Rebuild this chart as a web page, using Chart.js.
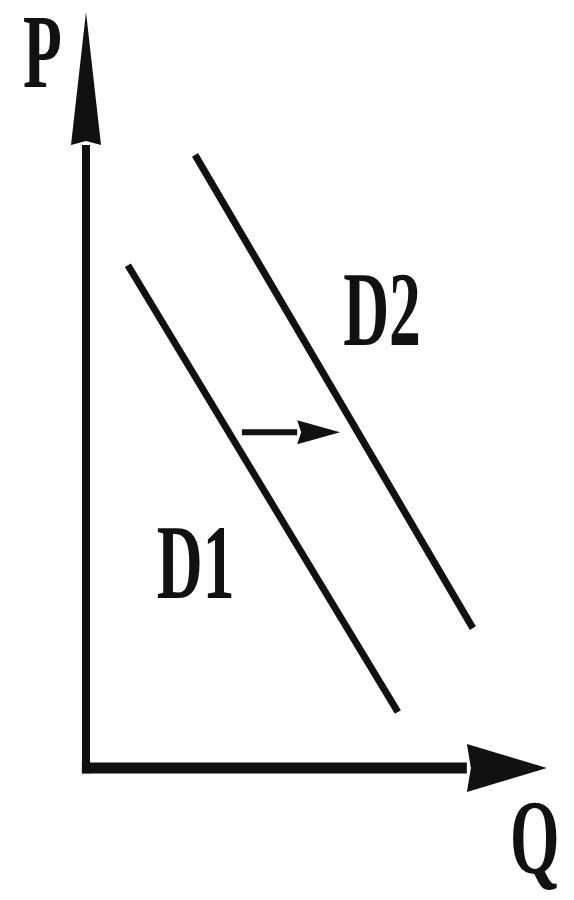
<!DOCTYPE html>
<html>
<head>
<meta charset="utf-8">
<script src="https://cdn.jsdelivr.net/npm/chart.js@4/dist/chart.umd.min.js"></script>
<style>
  html, body { margin: 0; padding: 0; background: #fff; }
  #wrap { width: 574px; height: 900px; position: relative; }
</style>
</head>
<body>
<div id="wrap"><canvas id="myChart"></canvas></div>
<script>
// Demand curves (Q, P in arbitrary units)
const d1Q = [0.91, 6.78];
const d1P = [6.65, 0.74];
const d2Q = [2.37, 8.41];
const d2P = [8.11, 1.85];

// Shift arrow from D1 to D2 (shaft, head added by plugin)
const shiftQ = [3.39, 4.59];
const shiftP = [4.44, 4.44];

// Axes (shaft ends, heads added by plugin)
const pAxisQ = [0, 0];
const pAxisP = [-0.07, 8.24];
const qAxisQ = [-0.09, 8.28];
const qAxisP = [0, 0];

// Text labels, anchored at left baseline
const labelText = ['P', 'Q', 'D1', 'D2'];
const labelQ = [-1.37, 9.22, 1.54, 5.59];
const labelP = [9.01, -1.39, 2.25, 5.60];

const ink = '#111';
const toPts = (xs, ys) => xs.map((x, i) => ({ x: x, y: ys[i] }));

function lineSet(xs, ys, width, head) {
    return {
        data: toPts(xs, ys),
        showLine: true,
        clip: false,
        borderColor: ink,
        borderWidth: width,
        pointRadius: 0,
        borderCapStyle: 'butt',
        head: head
    };
}

// draws arrow heads past the last point, and the text labels
const diagramPlugin = {
    id: 'diagram',
    afterDatasetsDraw(chart) {
        const c = chart.ctx;
        const xs = chart.scales.x, ys = chart.scales.y;
        c.save();
        c.fillStyle = ink;
        chart.data.datasets.forEach(ds => {
            if (!ds.head) return;
            const n = ds.data.length;
            const a = ds.data[n - 2], b = ds.data[n - 1];
            const ax = xs.getPixelForValue(a.x), ay = ys.getPixelForValue(a.y);
            const bx = xs.getPixelForValue(b.x), by = ys.getPixelForValue(b.y);
            const len = Math.hypot(bx - ax, by - ay);
            const ux = (bx - ax) / len, uy = (by - ay) / len;
            const tx = bx + ux * ds.head.length, ty = by + uy * ds.head.length;
            const hw = ds.head.half;
            c.beginPath();
            c.moveTo(tx, ty);
            c.lineTo(bx - uy * hw, by + ux * hw);
            c.lineTo(bx + ux * 4, by + uy * 4);
            c.lineTo(bx + uy * hw, by - ux * hw);
            c.closePath();
            c.fill();
        });
        c.font = 'bold 106px "Liberation Serif", "DejaVu Serif", serif';
        c.textBaseline = 'alphabetic';
        c.textAlign = 'left';
        labelText.forEach((t, i) => {
            c.save();
            c.translate(xs.getPixelForValue(labelQ[i]), ys.getPixelForValue(labelP[i]));
            c.scale(0.6, 1);
            c.fillText(t, 0, 0);
            c.restore();
        });
        c.restore();
    }
};

const ctx = document.getElementById('myChart').getContext('2d');
new Chart(ctx, {
    type: 'scatter',
    data: {
        datasets: [
            lineSet(pAxisQ, pAxisP, 8, { length: 133, half: 15 }),
            lineSet(qAxisQ, qAxisP, 11, { length: 80, half: 24 }),
            lineSet(d1Q, d1P, 7, null),
            lineSet(d2Q, d2P, 7, null),
            lineSet(shiftQ, shiftP, 6, { length: 43, half: 12 })
        ]
    },
    options: {
        responsive: true,
        maintainAspectRatio: false,
        animation: false,
        layout: { padding: { left: 86, right: 28, top: 12, bottom: 132 } },
        plugins: { legend: { display: false }, tooltip: { enabled: false } },
        scales: {
            x: { type: 'linear', min: 0, max: 10, display: false },
            y: { type: 'linear', min: 0, max: 10, display: false }
        }
    },
    plugins: [diagramPlugin]
});
</script>
</body>
</html>
